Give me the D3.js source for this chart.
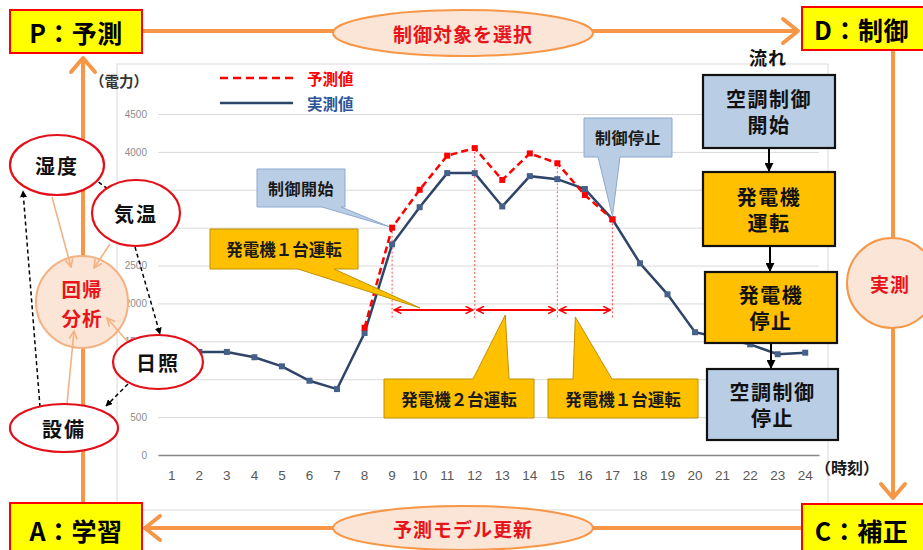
<!DOCTYPE html>
<html><head><meta charset="utf-8">
<script src="https://cdn.jsdelivr.net/npm/d3@7/dist/d3.min.js"></script>
<style>
body{margin:0;background:#fff;}
svg{display:block;font-family:"Noto Sans CJK JP","Noto Sans",sans-serif;}
</style></head><body>
<svg id="c" width="923" height="550"></svg>
<script>
// ---- data ----
const hourLabels = ["1","2","3","4","5","6","7","8","9","10","11","12","13","14","15","16","17","18","19","20","21","22","23","24"];
const actual = [1360,1360,1360,1290,1170,980,870,1610,2780,3270,3720,3720,3280,3680,3640,3510,3110,2530,2120,1620,1540,1460,1330,1350];
const predHours = ["8","9","10","11","12","13","14","15","16","17"];
const predicted = [1680,3000,3500,3950,4050,3630,3980,3850,3430,3110];
const yTicks = [0,500,1000,1500,2000,2500,3000,3500,4000,4500];
const switchHours = ["9","12","15","17"];
const legendLabels = ["予測値","実測値"];
const factors = ["湿度","気温","日照","設備"];
const flowSteps = [["空調制御","開始"],["発電機","運転"],["発電機","停止"],["空調制御","停止"]];
const cornerLabels = ["P：予測","D：制御","C：補正","A：学習"];

const svg = d3.select("#c");
const defs = svg.append("defs");
defs.append("marker").attr("id","blk").attr("viewBox","0 0 10 10").attr("refX",9).attr("refY",5)
  .attr("markerWidth",7).attr("markerHeight",7).attr("orient","auto-start-reverse").attr("markerUnits","userSpaceOnUse")
  .append("path").attr("d","M0,0L10,5L0,10Z").attr("fill","#000");
defs.append("marker").attr("id","blk2").attr("viewBox","0 0 10 10").attr("refX",9).attr("refY",5)
  .attr("markerWidth",9).attr("markerHeight",9).attr("orient","auto").attr("markerUnits","userSpaceOnUse")
  .append("path").attr("d","M0,0L10,5L0,10Z").attr("fill","#000");
defs.append("marker").attr("id","org").attr("viewBox","0 0 10 10").attr("refX",9).attr("refY",5)
  .attr("markerWidth",10).attr("markerHeight",10).attr("orient","auto").attr("markerUnits","userSpaceOnUse")
  .append("path").attr("d","M1,1L9,5L1,9").attr("fill","none").attr("stroke","#F4B183").attr("stroke-width",1.6);
defs.append("marker").attr("id","red").attr("viewBox","0 0 10 10").attr("refX",9).attr("refY",5)
  .attr("markerWidth",9).attr("markerHeight",9).attr("orient","auto-start-reverse").attr("markerUnits","userSpaceOnUse")
  .append("path").attr("d","M1,1L9,5L1,9").attr("fill","none").attr("stroke","#FF0000").attr("stroke-width",1.8);

// chart frame
svg.append("rect").attr("x",117).attr("y",64).attr("width",711).attr("height",446)
  .attr("fill","#fff").attr("stroke","#D9D9D9").attr("stroke-width",1);

const x = d3.scaleBand().domain(hourLabels).range([158,819]);
const cx = h => x(h) + x.bandwidth()/2;
const y = d3.scaleLinear().domain([0,4500]).range([455,114]);

const gy = svg.append("g").attr("transform","translate(158,0)")
  .call(d3.axisLeft(y).tickValues(yTicks).tickSize(-661).tickPadding(11).tickFormat(d3.format("d")));
gy.select(".domain").remove();
gy.selectAll("line").attr("stroke","#D9D9D9");
gy.selectAll("text").attr("fill","#8c8c8c").style("font-size","10px").style("font-family","Arial, 'Liberation Sans', sans-serif");

const gx = svg.append("g").attr("transform","translate(0,455)")
  .call(d3.axisBottom(x).tickSize(0).tickPadding(15));
gx.select(".domain").attr("stroke","#868686").attr("stroke-width",1.5);
gx.selectAll("text").attr("fill","#595959").style("font-size","13.5px").style("font-family","Arial, 'Liberation Sans', sans-serif");

// lines
const actData = hourLabels.map((h,i)=>({h, v:actual[i]}));
const predData = predHours.map((h,i)=>({h, v:predicted[i]}));
const line = d3.line().x(d=>cx(d.h)).y(d=>y(d.v));
const navy = "#2E4468";

// dotted verticals at switch points
const predMap = new Map(predData.map(d=>[d.h,d.v]));
const arrowY = 310;
svg.append("g").selectAll("line").data(switchHours).join("line")
  .attr("x1",d=>cx(d)).attr("x2",d=>cx(d)).attr("y1",d=>y(predMap.get(d))).attr("y2",arrowY+8)
  .attr("stroke","#FF5050").attr("stroke-width",1).attr("stroke-dasharray","2,2");

svg.append("path").datum(actData).attr("d",line).attr("fill","none").attr("stroke",navy).attr("stroke-width",2.5);
svg.append("path").datum(predData).attr("d",line).attr("fill","none").attr("stroke","#FF0000").attr("stroke-width",2.5).attr("stroke-dasharray","7,4");
svg.append("g").selectAll("rect").data(actData).join("rect")
  .attr("x",d=>cx(d.h)-3).attr("y",d=>y(d.v)-3).attr("width",6).attr("height",6).attr("fill","#46608A");
svg.append("g").selectAll("rect").data(predData).join("rect")
  .attr("x",d=>cx(d.h)-3).attr("y",d=>y(d.v)-3).attr("width",6).attr("height",6).attr("fill","#FF0000");

// red double arrows
const segs = d3.pairs(switchHours);
svg.append("g").selectAll("line").data(segs).join("line")
  .attr("x1",d=>cx(d[0])+2).attr("x2",d=>cx(d[1])-2).attr("y1",arrowY).attr("y2",arrowY)
  .attr("stroke","#FF0000").attr("stroke-width",2)
  .attr("marker-start","url(#red)").attr("marker-end","url(#red)");

// callouts
function callout(bx,by,w,h,b1,b2,tx,ty,side,fill,stroke){
  let p;
  if(side==="bottom") p=`M${bx},${by}H${bx+w}V${by+h}H${b2}L${tx},${ty}L${b1},${by+h}H${bx}Z`;
  else p=`M${bx},${by}H${b1}L${tx},${ty}L${b2},${by}H${bx+w}V${by+h}H${bx}Z`;
  svg.append("path").attr("d",p).attr("fill",fill).attr("stroke",stroke).attr("stroke-width",1);
}
function txt(t,xx,yy,size,color,weight,anchor,ls){
  return svg.append("text").attr("x",xx).attr("y",yy).attr("text-anchor",anchor||"middle")
    .attr("dominant-baseline","central").attr("fill",color||"#000").style("font-size",size+"px")
    .style("font-weight",weight||"bold").style("letter-spacing",(ls||0)+"px").text(t);
}
const blueFill="#B9CDE5", blueStroke="#8DA9CF", gold="#FFC000", goldStroke="#C09000";
callout(257,169,88,38,322,341,cx("9")-3,y(predMap.get("9"))-1,"bottom",blueFill,blueStroke);
txt("制御開始",301,188,16,"#1a1a1a","bold","middle",0.5);
callout(584,118,88,39,598,620,cx("17"),y(predMap.get("17"))-3,"bottom",blueFill,blueStroke);
txt("制御停止",628,137,16,"#1a1a1a","bold","middle",0.5);
callout(210,229,148,40,298,334,cx("9")+28,arrowY-2,"bottom",gold,goldStroke);
txt("発電機１台運転",284,249,16.5,"#1a1a1a","bold","middle",0);
callout(384,379,150,39,473,509,cx("13")+3,arrowY+5,"top",gold,goldStroke);
txt("発電機２台運転",459,399,16.5,"#1a1a1a","bold","middle",0);
callout(548,379,150,39,573,612,cx("15")+18,arrowY+7,"top",gold,goldStroke);
txt("発電機１台運転",623,399,16.5,"#1a1a1a","bold","middle",0);

// legend
svg.append("line").attr("x1",220).attr("x2",293).attr("y1",78).attr("y2",78).attr("stroke","#FF0000").attr("stroke-width",2.5).attr("stroke-dasharray","8,5");
svg.append("line").attr("x1",220).attr("x2",293).attr("y1",103).attr("y2",103).attr("stroke",navy).attr("stroke-width",2.5);
txt(legendLabels[0],307,78,15.5,"#FF0000","bold","start");
txt(legendLabels[1],307,103,15.5,"#2F5597","bold","start");
txt("（電力）",148,80,14.5,"#333","bold","end");
txt("（時刻）",879,467,16,"#1a1a1a","bold","end");

// orange PDCA loop
const orange="#F79646";
const og = svg.append("g").attr("stroke",orange).attr("stroke-width",4).attr("fill","none").attr("stroke-linecap","round").attr("stroke-linejoin","round");
og.append("line").attr("x1",142).attr("x2",797).attr("y1",31).attr("y2",31);
og.append("path").attr("d","M783,19L798,31L783,43");
og.append("line").attr("x1",893).attr("x2",893).attr("y1",50).attr("y2",497);
og.append("path").attr("d","M881,484L893,498L905,484");
og.append("line").attr("x1",802).attr("x2",146).attr("y1",528).attr("y2",528);
og.append("path").attr("d","M160,516L145,528L160,540");
og.append("line").attr("x1",83).attr("x2",83).attr("y1",503).attr("y2",59);
og.append("path").attr("d","M71,72L83,58L95,72");

// middle ellipses on loop
const peach="#FBE5D6";
svg.append("ellipse").attr("cx",463).attr("cy",33).attr("rx",130).attr("ry",23).attr("fill",peach).attr("stroke",orange).attr("stroke-width",2);
txt("制御対象を選択",463,33,19,"#E8141B","bold","middle",1);
svg.append("ellipse").attr("cx",463).attr("cy",528).attr("rx",130).attr("ry",22).attr("fill",peach).attr("stroke",orange).attr("stroke-width",2);
txt("予測モデル更新",463,528,19,"#E8141B","bold","middle",1);
svg.append("circle").attr("cx",892).attr("cy",283).attr("r",45).attr("fill",peach).attr("stroke",orange).attr("stroke-width",2);
txt("実測",890,283,19,"#E8141B","bold","middle",1);

// regression diagram
svg.append("circle").attr("cx",82).attr("cy",302).attr("r",46).attr("fill",peach).attr("stroke","#F4B183").attr("stroke-width",2);
txt("回帰",82,288,19.5,"#E8141B","bold","middle",1);
txt("分析",82,317,19.5,"#E8141B","bold","middle",1);

const ell = [
  {t:factors[0],cx:57,cy:165,rx:47,ry:30},
  {t:factors[1],cx:136,cy:213,rx:44,ry:33},
  {t:factors[2],cx:158,cy:362,rx:45,ry:27},
  {t:factors[3],cx:64,cy:428,rx:54,ry:24}
];
// orange thin arrows to regression
const oa = [[52,197,71,267],[110,244,94,268],[127,341,107,318],[67,404,74,331]];
svg.append("g").selectAll("line").data(oa).join("line")
  .attr("x1",d=>d[0]).attr("y1",d=>d[1]).attr("x2",d=>d[2]).attr("y2",d=>d[3])
  .attr("stroke","#F4B183").attr("stroke-width",1.6).attr("marker-end","url(#org)");
// dashed black arrows
const da = [[93,178,112,192],[135,247,160,334],[128,384,106,406],[40,407,23,191]];
svg.append("g").selectAll("line").data(da).join("line")
  .attr("x1",d=>d[0]).attr("y1",d=>d[1]).attr("x2",d=>d[2]).attr("y2",d=>d[3])
  .attr("stroke","#000").attr("stroke-width",1.5).attr("stroke-dasharray","4,3").attr("marker-end","url(#blk)");
ell.forEach(e=>{
  svg.append("ellipse").attr("cx",e.cx).attr("cy",e.cy).attr("rx",e.rx).attr("ry",e.ry).attr("fill","#fff").attr("stroke","#E3101A").attr("stroke-width",2.2);
  txt(e.t,e.cx,e.cy,20,"#111","bold","middle",2);
});

// flow boxes
txt("流れ",768,57,18,"#111","bold","middle",1);
const fb = [{x:703,y:75,w:132,h:73,f:blueFill},{x:703,y:172,w:132,h:74,f:gold},{x:705,y:272,w:132,h:71,f:gold},{x:707,y:369,w:131,h:71,f:blueFill}];
fb.forEach((b,i)=>{
  if(i<fb.length-1){
    const nb=fb[i+1];
    svg.append("line").attr("x1",769+i).attr("x2",769+i).attr("y1",b.y+b.h).attr("y2",nb.y-1).attr("stroke","#000").attr("stroke-width",2).attr("marker-end","url(#blk2)");
  }
});
fb.forEach((b,i)=>{
  svg.append("rect").attr("x",b.x).attr("y",b.y).attr("width",b.w).attr("height",b.h).attr("fill",b.f).attr("stroke","#111").attr("stroke-width",2.2);
  txt(flowSteps[i][0],b.x+b.w/2,b.y+b.h/2-13,20,"#111","bold","middle",1.5);
  txt(flowSteps[i][1],b.x+b.w/2,b.y+b.h/2+13,20,"#111","bold","middle",1.5);
});

// corner boxes
const cb=[{x:10,y:10,w:132,h:43},{x:802,y:7,w:123,h:43},{x:802,y:504,w:123,h:50},{x:10,y:503,w:132,h:51}];
cb.forEach((b,i)=>{
  svg.append("rect").attr("x",b.x).attr("y",b.y).attr("width",b.w).attr("height",b.h).attr("fill","#FFFF00").attr("stroke","#FF0000").attr("stroke-width",2);
  const cyy = i>=2 ? 530 : b.y+b.h/2;
  txt(cornerLabels[i],b.x+b.w/2+(i===1||i===2?-2:0),cyy,25,"#000","bold","middle",0.5);
});
</script>
</body></html>
